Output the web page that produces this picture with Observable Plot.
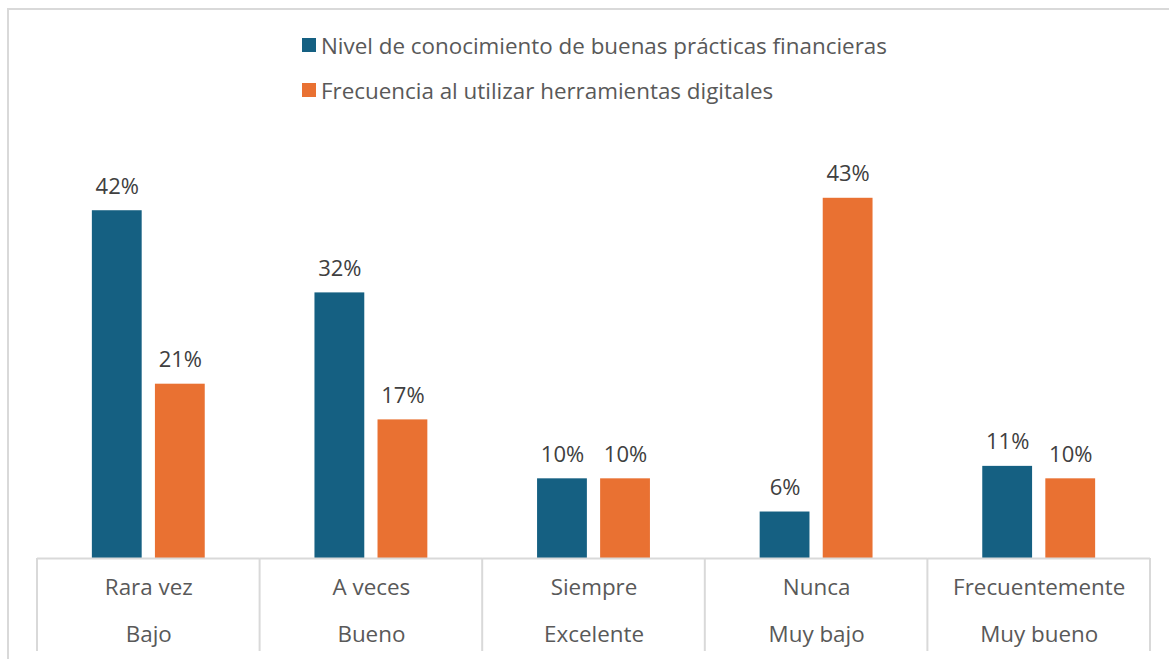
<!DOCTYPE html>
<html>
<head>
<meta charset="utf-8">
<script src="https://cdn.jsdelivr.net/npm/d3@7"></script>
<script src="https://cdn.jsdelivr.net/npm/@observablehq/plot@0.6"></script>
<style>
  html, body { margin: 0; padding: 0; background: #fff; }
  #wrap { position: relative; width: 1169px; height: 659px; overflow: hidden; font-family: "Open Sans", sans-serif; }
  #frame { position: absolute; left: 7px; top: 8px; width: 1200px; height: 700px; border-left: 2px solid #d9d9d9; border-top: 2px solid #d9d9d9; box-sizing: border-box; pointer-events: none; }
  #legend { position: absolute; left: 302px; top: 30px; }
  .item { display: flex; align-items: center; height: 30px; margin-bottom: 15px; font-size: 22.4px; color: #595959; white-space: nowrap; }
  .sw { width: 14px; height: 14px; margin-right: 5px; }
  #chart { position: absolute; left: 0; top: 110px; }
</style>
</head>
<body>
<div id="wrap">
  <div id="frame"></div>
  <div id="legend"></div>
  <div id="chart"></div>
</div>
<script>
const categories = ["Rara vez", "A veces", "Siempre", "Nunca", "Frecuentemente"];
const levels = ["Bajo", "Bueno", "Excelente", "Muy bajo", "Muy bueno"];
const seriesNames = ["Nivel de conocimiento de buenas prácticas financieras", "Frecuencia al utilizar herramientas digitales"];
const conocimiento = [41.9, 32.0, 9.6, 5.6, 11.1];
const frecuencia = [21.0, 16.7, 9.6, 43.4, 9.6];
const colors = ["#156082", "#E97132"];

const data = [];
categories.forEach((c, i) => {
  data.push({cat: c, series: seriesNames[0], value: conocimiento[i]});
  data.push({cat: c, series: seriesNames[1], value: frecuencia[i]});
});

// legend
const legend = document.getElementById("legend");
seriesNames.forEach((s, i) => {
  const it = document.createElement("div");
  it.className = "item";
  it.innerHTML = `<span class="sw" style="background:${colors[i]}"></span><span>${s}</span>`;
  legend.appendChild(it);
});

const plot = Plot.plot({
  width: 1169,
  height: 549,
  marginLeft: 37,
  marginRight: 19,
  marginTop: 33,
  marginBottom: 101,
  style: {fontFamily: "'Open Sans', sans-serif", background: "transparent", overflow: "visible"},
  fx: {domain: categories, padding: 0, round: false, axis: null},
  x: {domain: seriesNames, paddingInner: 0.21, paddingOuter: 0.87, round: false, axis: null},
  y: {domain: [0, 50], axis: null},
  color: {domain: seriesNames, range: colors},
  marks: [
    Plot.barY(data, {fx: "cat", x: "series", y: "value", fill: "series"}),
    Plot.ruleY([0], {stroke: "#d9d9d9", strokeWidth: 2}),
    Plot.text(data, {fx: "cat", x: "series", y: "value", text: d => Math.round(d.value) + "%", dy: -24, fontSize: 22, fill: "#404040"}),
    Plot.text(categories, {fx: d => d, text: d => d, frameAnchor: "bottom", dy: 36, fontSize: 22.4, fill: "#595959"}),
    Plot.text(categories, {fx: d => d, text: (d, i) => levels[i], frameAnchor: "bottom", dy: 83, fontSize: 22.4, fill: "#595959"})
  ]
});
document.getElementById("chart").appendChild(plot);

// category separators drawn from the fx and y scales
const fx = plot.scale("fx");
const ys = plot.scale("y");
const base = ys.apply(0);
const xs = categories.map(c => fx.apply(c));
xs.push(fx.apply(categories[categories.length - 1]) + fx.bandwidth);
d3.select(plot).append("g")
  .selectAll("line").data(xs).join("line")
  .attr("x1", d => d).attr("x2", d => d)
  .attr("y1", base).attr("y2", base + 93)
  .attr("stroke", "#d9d9d9").attr("stroke-width", 2);
</script>
</body>
</html>
